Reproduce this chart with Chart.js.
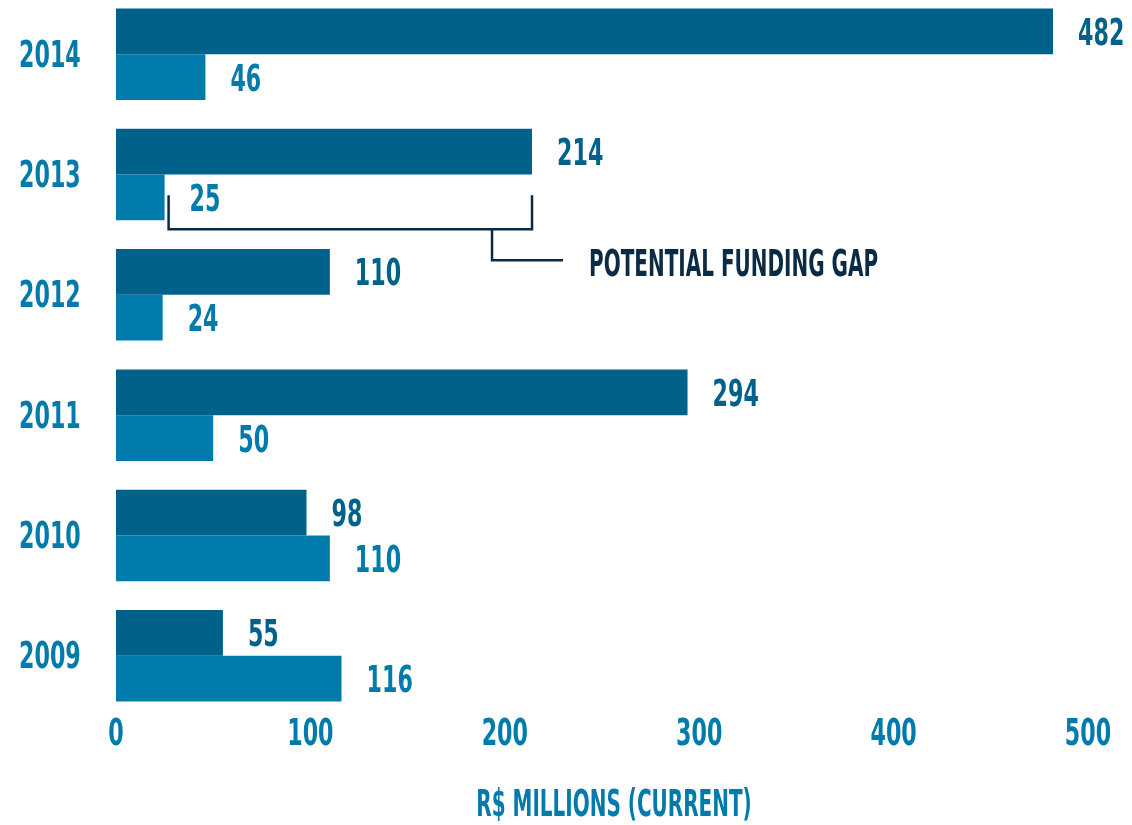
<!DOCTYPE html>
<html>
<head>
<meta charset="utf-8">
<script src="https://cdn.jsdelivr.net/npm/chart.js@4/dist/chart.umd.min.js"></script>
<style>
  html, body { margin: 0; padding: 0; background: #ffffff; overflow: hidden; }
  #wrap { position: absolute; left: 0; top: -6px; width: 1132px; height: 831px; }
</style>
</head>
<body>
<div id="wrap"><canvas id="fundingChart"></canvas></div>
<script>
'use strict';
const years = ['2014', '2013', '2012', '2011', '2010', '2009'];
const requiredFunds = [482, 214, 110, 294, 98, 55];
const availableFunds = [46, 25, 24, 50, 110, 116];
const xTicks = [0, 100, 200, 300, 400, 500];
const axisTitle = 'R$ MILLIONS (CURRENT)';
const gapNote = 'POTENTIAL FUNDING GAP';

const darkBlue = '#00628a';
const lightBlue = '#007bab';
const navy = '#0b2b45';
const fontFamily = "'DejaVu Sans', sans-serif";
const fontSize = 37;
const digitSqueeze = 0.6;     // horizontal squeeze for a condensed look
const wordSqueeze = 0.54;
const capHalf = fontSize * 0.729 / 2;

// draws text squeezed horizontally, y is the vertical middle of the caps
function condensedText(ctx, text, x, y, align, color, sx) {
    ctx.save();
    ctx.font = 'bold ' + fontSize + 'px ' + fontFamily;
    ctx.fillStyle = color;
    ctx.textBaseline = 'alphabetic';
    ctx.textAlign = align;
    ctx.translate(x, y + capHalf);
    ctx.scale(sx || digitSqueeze, 1);
    ctx.fillText(text, 0, 0);
    ctx.restore();
}

// axis labels, value labels and the funding gap bracket
const chartText = {
    id: 'chartText',
    afterDatasetsDraw(chart) {
        const ctx = chart.ctx;
        const xs = chart.scales.x;
        const ys = chart.scales.y;

        years.forEach((yr, i) => {
            condensedText(ctx, yr, 19, ys.getPixelForTick(i) - 1, 'left', lightBlue);
        });
        xTicks.forEach(v => {
            condensedText(ctx, String(v), xs.getPixelForValue(v), 738, 'center', lightBlue);
        });
        condensedText(ctx, axisTitle, 614, 809, 'center', lightBlue, wordSqueeze);

        chart.data.datasets.forEach((ds, i) => {
            chart.getDatasetMeta(i).data.forEach((bar, j) => {
                condensedText(ctx, String(ds.data[j]), bar.x + 25, bar.y, 'left', ds.backgroundColor);
            });
        });

        const low = chart.getDatasetMeta(1).data[1];
        const left = xs.getPixelForValue(availableFunds[1]) + 4;
        const right = xs.getPixelForValue(requiredFunds[1]);
        const top = low.y - 2;
        const bottom = low.y + low.height / 2 + 9;
        const stem = left + (right - left) * 0.89;
        ctx.save();
        ctx.strokeStyle = navy;
        ctx.lineWidth = 2.5;
        ctx.beginPath();
        ctx.moveTo(left, top);
        ctx.lineTo(left, bottom);
        ctx.lineTo(right, bottom);
        ctx.lineTo(right, top);
        ctx.moveTo(stem, bottom);
        ctx.lineTo(stem, bottom + 31);
        ctx.lineTo(stem + 71, bottom + 31);
        ctx.stroke();
        ctx.restore();
        condensedText(ctx, gapNote, stem + 97, bottom + 33, 'left', navy, wordSqueeze);
    }
};

new Chart(document.getElementById('fundingChart'), {
    type: 'bar',
    data: {
        labels: years,
        datasets: [{
            label: 'Required',
            data: requiredFunds,
            backgroundColor: darkBlue,
            categoryPercentage: 0.76,
            barPercentage: 1,
        }, {
            label: 'Available',
            data: availableFunds,
            backgroundColor: lightBlue,
            categoryPercentage: 0.76,
            barPercentage: 1,
        }]
    },
    options: {
        indexAxis: 'y',
        responsive: true,
        maintainAspectRatio: false,
        animation: false,
        layout: { padding: { left: 19, right: 44, top: 0, bottom: 0 } },
        scales: {
            x: {
                min: 0,
                max: 500,
                grid: { display: false, drawTicks: false },
                border: { display: false },
                ticks: { display: false },
                afterFit: scale => { scale.height = 109; }
            },
            y: {
                grid: { display: false, drawTicks: false },
                border: { display: false },
                ticks: { display: false },
                afterFit: scale => { scale.width = 97; }
            }
        },
        plugins: {
            legend: { display: false },
            tooltip: { enabled: false },
            title: { display: false }
        }
    },
    plugins: [chartText]
});
</script>
</body>
</html>
